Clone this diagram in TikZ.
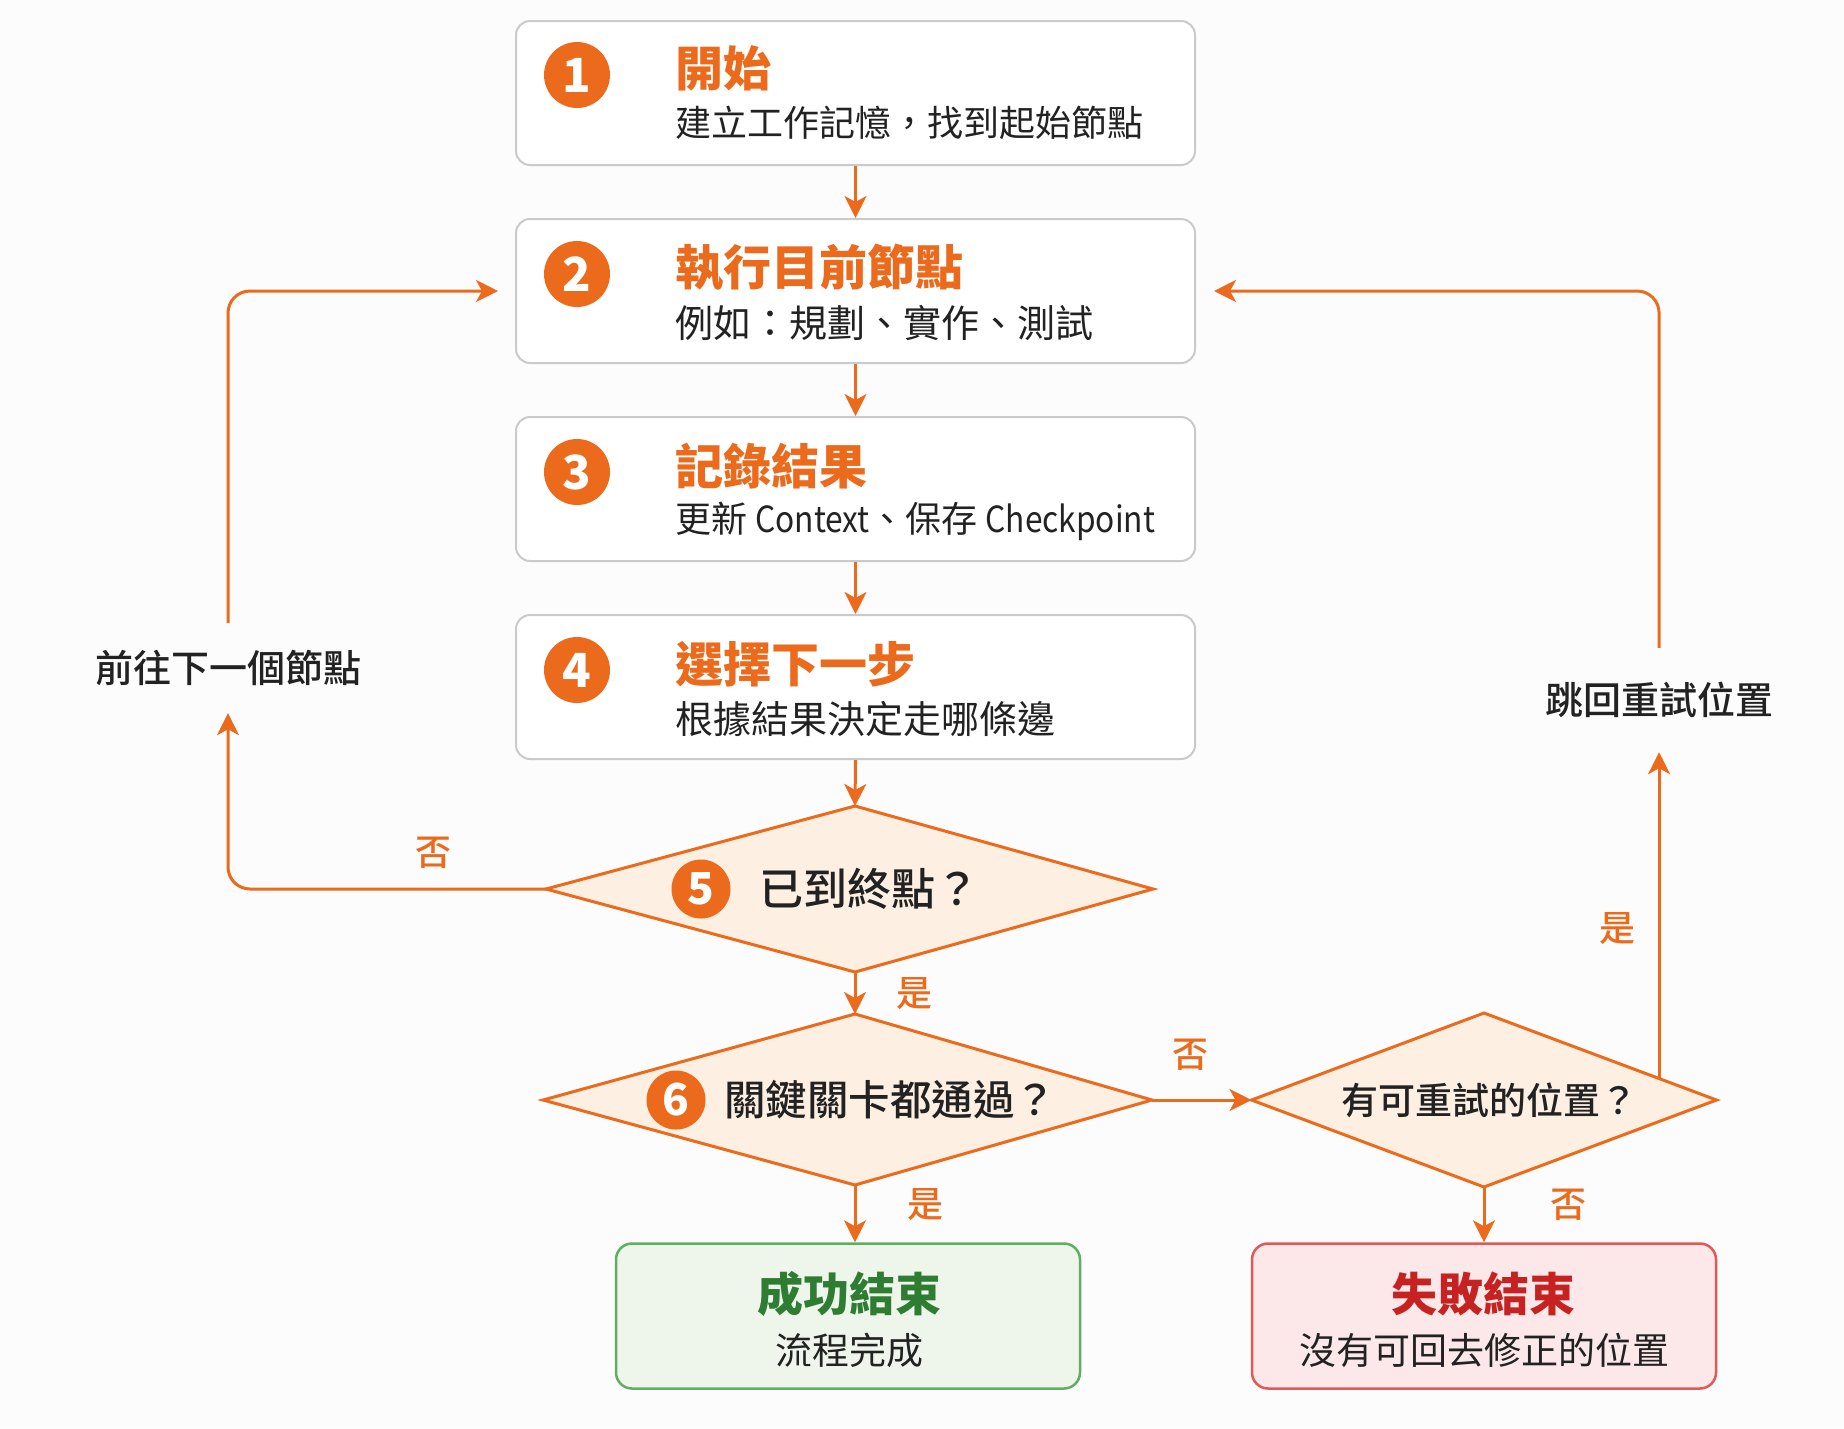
\documentclass[tikz,border=0pt]{standalone}
\usepackage{fontspec}
\setmainfont{Noto Sans CJK TC}
\newfontfamily\medfont{Noto Sans CJK TC Medium}
\newfontfamily\latn{Noto Sans CJK TC}[FakeStretch=0.88]
\usetikzlibrary{shapes.geometric,arrows.meta}
\definecolor{org}{HTML}{EC6A1C}
\definecolor{ink}{HTML}{222222}
\definecolor{boxgray}{HTML}{CACACA}
\definecolor{decfill}{HTML}{FDF0E3}
\definecolor{bg}{HTML}{FCFCFC}
\definecolor{okfill}{HTML}{EEF6EC}
\definecolor{okdraw}{HTML}{5FAE63}
\definecolor{oktext}{HTML}{2E7D32}
\definecolor{badfill}{HTML}{FCE8E8}
\definecolor{baddraw}{HTML}{E05858}
\definecolor{badtext}{HTML}{C62222}
\tikzset{
 stepbox/.style={draw=boxgray, line width=2pt, fill=white, rounded corners=14pt, minimum width=679pt, minimum height=144pt, inner sep=0pt},
 endbox/.style={line width=2.5pt, rounded corners=16pt, minimum width=464pt, minimum height=145pt, inner sep=0pt},
 badge/.style={circle, fill=org, text=white, minimum size=66pt, inner sep=0pt, font=\fontsize{47}{47}\selectfont\bfseries},
 sbadge/.style={circle, fill=org, text=white, minimum size=59pt, inner sep=0pt, font=\fontsize{44}{44}\selectfont\bfseries},
 ttl/.style={anchor=west, text=org, inner sep=0pt, font=\fontsize{48}{56}\selectfont\bfseries},
 sub/.style={anchor=west, text=ink, inner sep=0pt, font=\fontsize{38}{44}\selectfont},
 dec/.style={draw=org, line width=3pt, fill=decfill, line join=miter},
 dectext/.style={text=ink, inner sep=0pt, font=\medfont\fontsize{44}{50}\selectfont},
 arr/.style={draw=org, line width=3pt, -{Stealth[length=22pt,width=22pt,inset=6pt]}},
 lbl/.style={text=org, inner sep=0pt, font=\medfont\fontsize{36}{42}\selectfont},
 side/.style={text=ink, inner sep=0pt, font=\medfont\fontsize{38}{44}\selectfont},
}
\begin{document}
\begin{tikzpicture}[x=1pt,y=-1pt]
\fill[bg] (0,0) rectangle (1844,1428);
\useasboundingbox (0,0) rectangle (1844,1428);

% step boxes
\node[stepbox] (b1) at (855.5,93) {};
\node[stepbox] (b2) at (855.5,291) {};
\node[stepbox] (b3) at (855.5,489) {};
\node[stepbox] (b4) at (855.5,687) {};

\node[badge] (n1) at (577,75) {1};
\node[badge] (n2) at (577,274) {2};
\node[badge] (n3) at (577,472) {3};
\node[badge] (n4) at (577,670) {4};

\node[ttl] (t1) at (675,68) {開始};
\node[sub, font=\fontsize{36}{42}\selectfont] (s1) at (675,123) {建立工作記憶，找到起始節點};
\node[ttl] (t2) at (675,268) {執行目前節點};
\node[sub] (s2) at (675,323) {例如：規劃、實作、測試};
\node[ttl] (t3) at (675,466) {記錄結果};
\node[sub, font=\fontsize{36}{42}\selectfont] (s3) at (675,521) {更新 {\latn Context}、保存 {\latn Checkpoint}};
\node[ttl] (t4) at (675,664) {選擇下一步};
\node[sub] (s4) at (675,719) {根據結果決定走哪條邊};

% decision 5 and 6 (drawn as rhombi)
\coordinate (d5n) at (855,806);
\coordinate (d5e) at (1153,889);
\coordinate (d5s) at (855,972);
\coordinate (d5w) at (546,889);
\draw[dec] (d5n) -- (d5e) -- (d5s) -- (d5w) -- cycle;
\coordinate (d6n) at (855,1014);
\coordinate (d6e) at (1152,1100);
\coordinate (d6s) at (855,1185);
\coordinate (d6w) at (543,1100);
\draw[dec] (d6n) -- (d6e) -- (d6s) -- (d6w) -- cycle;
\node[diamond, draw=org, line width=3pt, fill=decfill, inner sep=0pt, outer sep=0pt, minimum width=465pt, minimum height=174pt] (d7) at (1484,1100) {};

\node[sbadge] (n5) at (701,889) {5};
\node[dectext, anchor=west] (q5) at (759,889) {已到終點？};
\node[sbadge] (n6) at (676,1100) {6};
\node[dectext, anchor=west, font=\medfont\fontsize{41.5}{46}\selectfont] (q6) at (724,1100) {關鍵關卡都通過？};
\node[dectext, font=\medfont\fontsize{37}{44}\selectfont] (q7) at (1489,1100) {有可重試的位置？};

% end boxes
\node[endbox, draw=okdraw, fill=okfill] (ok) at (848,1316) {};
\node[text=oktext, inner sep=0pt, font=\fontsize{46}{52}\selectfont\bfseries] (okt) at (849,1294) {成功結束};
\node[text=ink, inner sep=0pt, font=\fontsize{37}{44}\selectfont] (oks) at (849,1350) {流程完成};

\node[endbox, draw=baddraw, fill=badfill] (fail) at (1484,1316) {};
\node[text=badtext, inner sep=0pt, font=\fontsize{46}{52}\selectfont\bfseries] (failt) at (1483,1294) {失敗結束};
\node[text=ink, inner sep=0pt, font=\fontsize{37}{44}\selectfont] (fails) at (1484,1350) {沒有可回去修正的位置};

% side labels
\node[side, minimum height=90pt] (lab1) at (228,668) {前往下一個節點};
\node[side, minimum height=104pt] (lab2) at (1659,700) {跳回重試位置};

% main flow
\draw[arr] (b1.south) -- (b2.north);
\draw[arr] (b2.south) -- (b3.north);
\draw[arr] (b3.south) -- (b4.north);
\draw[arr] (b4.south) -- (d5n);
\draw[arr] (d5s) -- (d6n);
\draw[arr] (d6e) -- (d7.west);
\draw[arr] (d6s) -- (d6s |- ok.north);
\draw[arr] (d7.south) -- (d7.south |- fail.north);

% loops
\draw[arr, rounded corners=22pt] (d5w) -| (lab1.south);
\draw[arr, rounded corners=22pt, shorten >=17pt] (lab1.north) |- (b2.west);
\draw[arr] (d7.7) -- (d7.7 |- lab2.south);
\draw[arr, rounded corners=22pt, shorten >=18pt] (d7.7 |- lab2.north) |- (b2.east);

% edge labels
\node[lbl] (l1) at (433,853) {否};
\node[lbl] (l2) at (914,994) {是};
\node[lbl] (l3) at (1190,1055) {否};
\node[lbl] (l4) at (925,1205) {是};
\node[lbl] (l5) at (1568,1205) {否};
\node[lbl] (l6) at (1617,929) {是};
\end{tikzpicture}
\end{document}
